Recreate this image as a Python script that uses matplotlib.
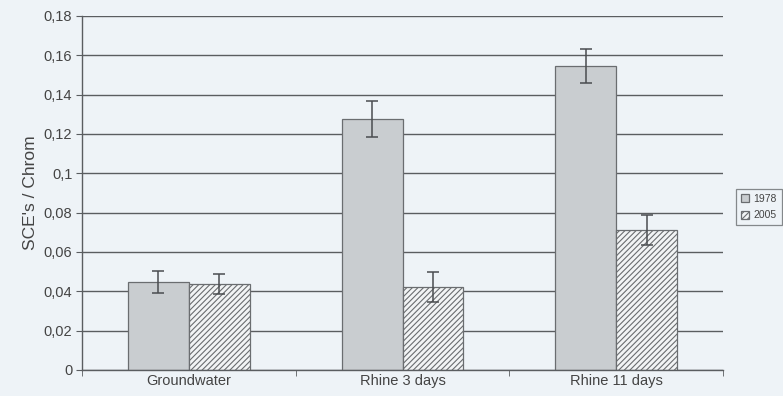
import matplotlib
matplotlib.use("Agg")
import matplotlib.pyplot as plt
import numpy as np

categories = ["Groundwater", "Rhine 3 days", "Rhine 11 days"]
series_names = ["1978", "2005"]
values_1978 = [0.0447, 0.1276, 0.1545]
errors_1978 = [0.0055, 0.0092, 0.0088]
values_2005 = [0.0437, 0.0422, 0.0712]
errors_2005 = [0.0050, 0.0076, 0.0074]
yticks = [0, 0.02, 0.04, 0.06, 0.08, 0.1, 0.12, 0.14, 0.16, 0.18]
ytick_labels = ["0", "0,02", "0,04", "0,06", "0,08", "0,1", "0,12", "0,14", "0,16", "0,18"]

bg = "#eef3f7"
plt.rcParams["font.family"] = ["Liberation Sans", "DejaVu Sans"]
plt.rcParams["hatch.color"] = "#707376"
plt.rcParams["hatch.linewidth"] = 0.8

fig = plt.figure(figsize=(7.83, 3.96), dpi=100, facecolor=bg)
ax = fig.add_axes([0.1047, 0.0657, 0.8187, 0.894], facecolor=bg)

x = np.arange(len(categories))
w = 0.285
ax.bar(x - w / 2, values_1978, w, color="#c9cdd0", edgecolor="#6a6d70",
       linewidth=0.9, label=series_names[0], zorder=2)
ax.bar(x + w / 2, values_2005, w, color="#f2f4f5", edgecolor="#6a6d70",
       linewidth=0.9, hatch="//////", label=series_names[1], zorder=2)
ax.errorbar(x - w / 2, values_1978, yerr=errors_1978, fmt="none",
            ecolor="#4a4d50", elinewidth=1.1, capsize=4, capthick=1.1, zorder=3)
ax.errorbar(x + w / 2, values_2005, yerr=errors_2005, fmt="none",
            ecolor="#4a4d50", elinewidth=1.1, capsize=4, capthick=1.1, zorder=3)

ax.set_xlim(-0.5, 2.5)
ax.set_ylim(0, 0.18)
ax.set_yticks(yticks)
ax.set_yticklabels(ytick_labels)
ax.yaxis.grid(True, color="#5a5d60", linewidth=1.0, zorder=0)
ax.set_axisbelow(True)

ax.set_xticks(x)
ax.set_xticklabels(categories)
ax.set_xticks([-0.5, 0.5, 1.5, 2.5], minor=True)
ax.tick_params(axis="x", which="major", length=0, labelsize=10.5,
               colors="#444444", pad=3)
ax.tick_params(axis="x", which="minor", length=4, color="#5a5d60")
ax.tick_params(axis="y", length=4, color="#5a5d60", labelsize=10.5,
               labelcolor="#444444", pad=3)

for side in ["top", "right"]:
    ax.spines[side].set_visible(False)
for side in ["left", "bottom"]:
    ax.spines[side].set_color("#5a5d60")
    ax.spines[side].set_linewidth(1.0)

ax.set_ylabel("SCE's / Chrom", fontsize=12.5, color="#444444", labelpad=4)

leg = ax.legend(loc="center left", bbox_to_anchor=(1.012, 0.46), fontsize=7.5,
                frameon=True, fancybox=False, handlelength=0.8, handleheight=0.8,
                handletextpad=0.4, borderpad=0.5, labelspacing=0.6,
                labelcolor="#444444")
leg.get_frame().set_edgecolor("#6a6d70")
leg.get_frame().set_facecolor(bg)
leg.get_frame().set_linewidth(0.9)

fig.savefig("out.png", dpi=100, facecolor=bg)
